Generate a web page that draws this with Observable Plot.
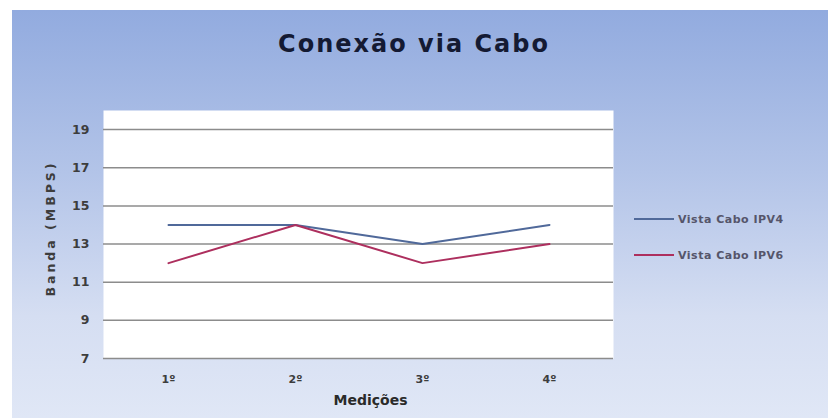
<!DOCTYPE html>
<html>
<head>
<meta charset="utf-8">
<script src="https://cdn.jsdelivr.net/npm/d3@7"></script>
<script src="https://cdn.jsdelivr.net/npm/@observablehq/plot@0.6"></script>
<style>
  html, body { margin: 0; padding: 0; background: #fff; }
  #wrap { position: relative; width: 828px; height: 418px; overflow: hidden; background: #fff; font-family: "DejaVu Sans", "Open Sans", sans-serif; }
  #bg { position: absolute; left: 12px; top: 10px; width: 816px; height: 408px;
        background: linear-gradient(to bottom, #92abdf 0%, #b3c4e8 40%, #d5def2 75%, #e0e7f6 100%); }
  #title { position: absolute; left: 0; width: 828px; top: 30px; text-align: center;
           font-size: 24px; font-weight: bold; letter-spacing: 2px; color: #141a33; }
  #chart { position: absolute; left: 0; top: 0; }
  #legend { position: absolute; left: 634px; top: 210px; font-size: 11px; font-weight: bold; color: #55556a; letter-spacing: 0.5px; }
  .item { display: flex; align-items: center; height: 18px; margin-bottom: 18px; }
  .sw { width: 40px; height: 2px; margin-right: 4px; }
</style>
</head>
<body>
<div id="wrap">
  <div id="bg"></div>
  <div id="title">Conexão via Cabo</div>
  <div id="chart"></div>
  <div id="legend"></div>
</div>
<script>
const categories = ["1º", "2º", "3º", "4º"];
const seriesNames = ["Vista Cabo IPV4", "Vista Cabo IPV6"];
const ipv4 = [14, 14, 13, 14];
const ipv6 = [12, 14, 12, 13];
const colors = ["#50699a", "#ad2f5e"];
const yTicks = [7, 9, 11, 13, 15, 17, 19];

const data = [];
categories.forEach((c, i) => {
  data.push({cat: c, value: ipv4[i], series: seriesNames[0]});
  data.push({cat: c, value: ipv6[i], series: seriesNames[1]});
});

const chart = Plot.plot({
  width: 828,
  height: 418,
  marginLeft: 103,
  marginRight: 215,
  marginTop: 110,
  marginBottom: 60,
  style: {background: "transparent", fontFamily: "DejaVu Sans, sans-serif"},
  x: {type: "point", domain: categories, padding: 0.5, label: null},
  y: {domain: [7, 20], label: null},
  color: {domain: seriesNames, range: colors},
  marks: [
    Plot.frame({fill: "white", stroke: "none"}),
    Plot.gridY(yTicks, {stroke: "#8c8c8c", strokeOpacity: 1, strokeWidth: 1.5}),
    Plot.ruleX([0], {frameAnchor: "left", stroke: "#9a9a9a", strokeWidth: 1.5}),
    Plot.axisY(yTicks, {tickSize: 0, tickPadding: 14, fontSize: 12.5, fontWeight: "bold", fill: "#3d3d3d", label: null}),
    Plot.axisX({tickSize: 0, tickPadding: 17, fontSize: 11, fontWeight: "bold", fill: "#3d3d3d", label: null}),
    Plot.line(data, {x: "cat", y: "value", z: "series", stroke: "series", strokeWidth: 2}),
    Plot.text(["Banda (MBPS)"], {frameAnchor: "left", textAnchor: "middle", dx: -53, dy: -6, rotate: -90, fontSize: 12.5, fontWeight: "bold", fill: "#3d3d3d", className: "ylab"}),
    Plot.text(["Medições"], {frameAnchor: "bottom", dy: 46, dx: 12, fontSize: 14, fontWeight: "bold", fill: "#2a2a2a"})
  ]
});
d3.select(chart).selectAll("text").filter(function() { return this.textContent === "Banda (MBPS)"; }).style("letter-spacing", "3px");
document.getElementById("chart").appendChild(chart);

const legend = document.getElementById("legend");
seriesNames.forEach((s, i) => {
  const item = document.createElement("div");
  item.className = "item";
  item.innerHTML = `<span class="sw" style="background:${colors[i]}"></span><span>${s}</span>`;
  legend.appendChild(item);
});
</script>
</body>
</html>
